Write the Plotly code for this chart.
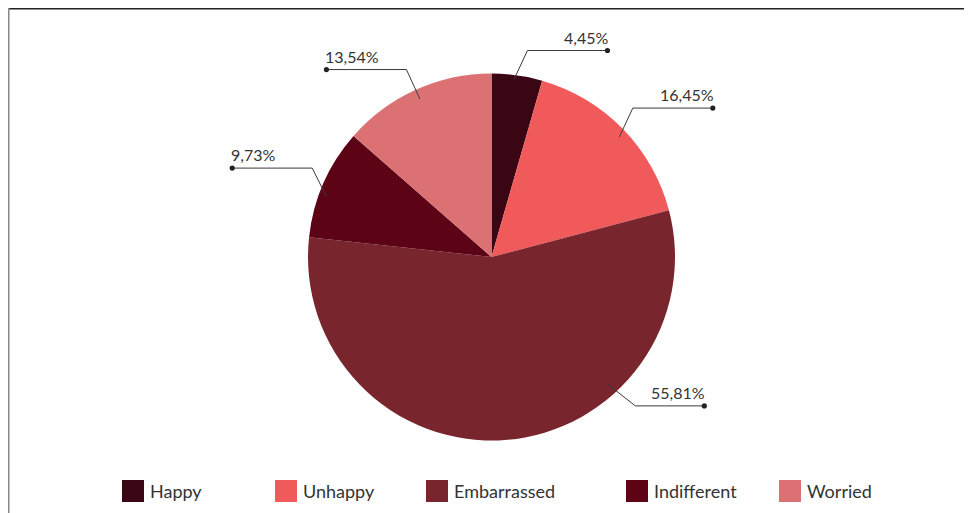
import math
import plotly.graph_objects as go

# ---- data ----
categories = ["Happy", "Unhappy", "Embarrassed", "Indifferent", "Worried"]
values = [4.45, 16.45, 55.81, 9.73, 13.54]
colors = ["#3b0613", "#f05a5b", "#79252d", "#5d0316", "#dc7174"]

# ---- layout config (pixels, screen coordinates) ----
W, H = 972, 513
OFF = 8  # page body margin
CX, CY, R = 491.5, 257.0, 183.5
label_frac = [0.45, 0.52, 0.31, 0.4, 0.5]   # where inside each slice the leader line starts
inner_r = [0.975, 0.955, 0.94, 0.96, 0.945]
elbow_dx = [13.5, 13.5, 27.4, 14.0, 13.5]
elbow_dy = [29.0, 29.0, 21.6, 28.0, 29.5]
tail_len = [80, 80, 69, 80, 80]
legend_x = [122, 275, 426, 626, 779]
legend_y = 491
FONT = "Lato, 'Open Sans', sans-serif"


def px(x):
    return (x - OFF) / W


def py(y):
    return 1 - (y - OFF) / H


fig = go.Figure()
fig.add_trace(go.Pie(
    labels=categories, values=values,
    marker=dict(colors=colors, line=dict(width=0)),
    sort=False, direction="clockwise", rotation=0,
    textinfo="none", hoverinfo="label+percent",
    showlegend=False,
    domain=dict(x=[px(CX - R), px(CX + R)], y=[py(CY + R), py(CY - R)]),
))

shapes = []
annotations = []
total = sum(values)
cum = 0.0
for i, (cat, v) in enumerate(zip(categories, values)):
    a = math.radians(360 * (cum + label_frac[i] * v) / total)
    cum += v
    sx, sy = math.sin(a), -math.cos(a)
    ix, iy = CX + inner_r[i] * R * sx, CY + inner_r[i] * R * sy
    right = sx >= 0
    up = sy < 0
    ex = ix + (elbow_dx[i] if right else -elbow_dx[i])
    ey = iy + (-elbow_dy[i] if up else elbow_dy[i])
    dx = ex + tail_len[i] if right else ex - tail_len[i]
    shapes.append(dict(type="path", xref="paper", yref="paper",
                       path=f"M{px(ix)},{py(iy)} L{px(ex)},{py(ey)} L{px(dx)},{py(ey)}",
                       line=dict(color="#3a3a3a", width=1)))
    r = 2.6
    shapes.append(dict(type="circle", xref="paper", yref="paper",
                       x0=px(dx - r), x1=px(dx + r), y0=py(ey + r), y1=py(ey - r),
                       fillcolor="#222222", line=dict(width=0)))
    label = f"{v:.2f}".replace(".", ",") + "%"
    annotations.append(dict(xref="paper", yref="paper",
                            x=px(dx + 3 if right else dx - 3), y=py(ey - 2),
                            xanchor="right" if right else "left", yanchor="bottom",
                            text=label, showarrow=False,
                            font=dict(family=FONT, size=16, color="#333333")))

# legend drawn manually (large square swatches)
for cat, col, lx in zip(categories, colors, legend_x):
    shapes.append(dict(type="rect", xref="paper", yref="paper",
                       x0=px(lx), x1=px(lx + 22), y0=py(legend_y + 11), y1=py(legend_y - 11),
                       fillcolor=col, line=dict(width=0)))
    annotations.append(dict(xref="paper", yref="paper", x=px(lx + 26), y=py(legend_y),
                            xanchor="left", yanchor="middle", text=cat, showarrow=False,
                            font=dict(family=FONT, size=18, color="#333333")))

# frame lines
shapes.append(dict(type="line", xref="paper", yref="paper",
                   x0=px(7), x1=px(W + OFF), y0=py(8.75), y1=py(8.75),
                   line=dict(color="#222222", width=1.5)))
shapes.append(dict(type="line", xref="paper", yref="paper",
                   x0=px(8.5), x1=px(8.5), y0=py(8), y1=py(H + OFF),
                   line=dict(color="#888888", width=2)))

fig.update_layout(
    width=W, height=H,
    margin=dict(l=0, r=0, t=0, b=0),
    paper_bgcolor="white", plot_bgcolor="white",
    shapes=shapes, annotations=annotations,
    showlegend=False,
)

fig.write_html("out.html")
